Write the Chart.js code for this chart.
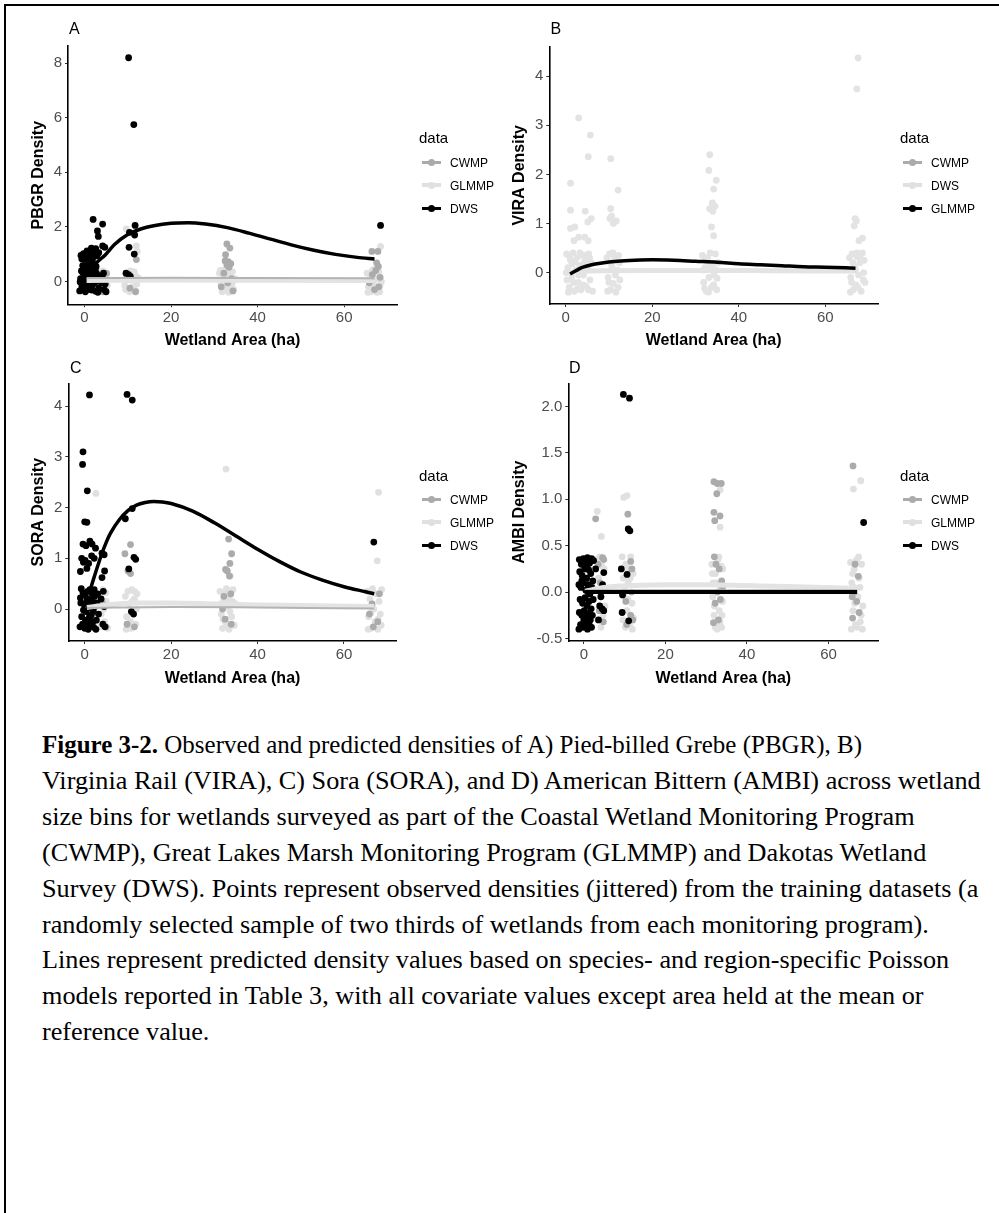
<!DOCTYPE html>
<html><head><meta charset="utf-8">
<script src="https://cdn.jsdelivr.net/npm/chart.js@4.4.0/dist/chart.umd.min.js"></script>
<style>
html,body{margin:0;padding:0;background:#fff;}
#page{position:relative;width:999px;height:1213px;overflow:hidden;background:#fff;font-family:"Liberation Sans",Arial,sans-serif;}
.frameTop{position:absolute;left:4px;top:4px;width:995px;height:2px;background:#000;z-index:5;}
.frameLeft{position:absolute;left:4px;top:4px;width:2px;height:1209px;background:#000;z-index:5;}
.cv{position:absolute;}
.letter{position:absolute;font-size:16px;line-height:16px;color:#000;}
.legTitle{position:absolute;font-size:15px;line-height:15px;color:#000;}
.legItem{position:absolute;font-size:12px;line-height:12px;color:#000;white-space:nowrap;}
.key{position:absolute;width:19px;}
.keyLine{position:absolute;left:0;width:19px;}
.keyDot{position:absolute;left:6px;width:7px;height:7px;border-radius:50%;}
.cap{position:absolute;left:42px;font-family:"Liberation Serif","Times New Roman",serif;font-size:26px;line-height:30px;color:#000;white-space:nowrap;transform-origin:0 50%;}
</style>
</head><body>
<div id="page">
  <div class="frameTop"></div><div class="frameLeft"></div>
  <canvas id="cA" class="cv" width="500" height="360" style="left:0px;top:0px;width:500px;height:360px"></canvas>
  <canvas id="cB" class="cv" width="500" height="360" style="left:481px;top:0px;width:500px;height:360px"></canvas>
  <canvas id="cC" class="cv" width="500" height="360" style="left:0px;top:337px;width:500px;height:360px"></canvas>
  <canvas id="cD" class="cv" width="499" height="360" style="left:500px;top:337px;width:499px;height:360px"></canvas>
  <div id="overlay"></div>
  <div id="caption"></div>
</div>
<script>
// ---------------- DATA ----------------
const xTicks = [0, 20, 40, 60];
const xRange = [-3.8, 72.2];
const seriesColors = { CWMP: '#ababab', GLMMP: '#e0e0e0', DWS: '#000000' };

// Panel A : PBGR
const aYTicks = [0, 2, 4, 6, 8];
const aYRange = [-0.84, 8.63];
const aDWS = [
[10.2,8.2],[11.4,5.75],[2.0,2.27],[4.2,2.1],[3.0,1.85],[3.2,1.65],[4.2,1.3],[4.7,1.25],[11.7,2.05],[10.4,1.8],[11.6,1.7],[10.3,1.25],[11.5,1.0],[9.6,0.3],[10.2,0.25],[10.6,0.18],[68.4,2.05],
[-0.8,0.95],[-0.2,1.02],[0.4,0.9],[0.9,1.07],[1.4,0.96],[1.8,1.16],[2.3,1.01],[2.6,1.2],[2.9,0.94],[0.1,0.8],[1.1,0.85],[-0.6,0.82],[2.0,0.88],[3.3,1.05],[0.6,1.12],[1.6,1.22],[0.9,0.62],[-0.4,0.58],[1.9,0.7],[2.7,0.55],[0.2,0.5],
[-1.1,-0.35],[-0.6,-0.2],[-0.9,0.1],[-0.3,0.3],[0.2,-0.38],[0.5,-0.05],[0.8,0.22],[1.2,-0.3],[1.5,0.38],[1.9,-0.12],[2.2,0.15],[2.6,-0.36],[2.9,0.05],[3.3,-0.25],[-0.7,0.38],[0.0,0.12],[0.4,-0.25],[1.0,0.4],[1.3,0.02],[1.7,-0.32],[2.0,0.32],[2.4,-0.05],[2.8,0.28],[3.1,-0.4],[-0.2,-0.1],[-1.0,-0.02],[1.6,-0.2],[0.3,0.25],[2.5,0.44],[3.6,0.2],[4.2,0.1],[4.8,-0.1],[4.5,-0.3],[5.0,-0.38],[3.9,-0.05],[4.4,0.3]
];
const aCWMP = [
[4.8,-0.32],[5.1,0.3],[4.3,-0.38],[11.8,-0.38],[12.0,0.8],[10.5,-0.25],[9.7,0.1],
[32.9,1.37],[33.6,1.22],[32.6,0.98],[32.5,0.75],[33.2,0.72],[33.8,0.65],[32.9,0.6],[33.4,0.52],[32.2,0.3],[34.0,0.1],[31.6,-0.2],[33.1,-0.05],[34.3,-0.35],
[66.4,1.1],[67.8,1.1],[67.5,0.68],[67.9,0.55],[67.3,0.4],[66.5,0.25],[68.3,0.15],[65.8,-0.05],[67.0,-0.3],[68.0,-0.2]
];
const aGLMMP = [
[3.5,0.35],[4.0,0.1],[4.5,-0.2],[5.1,0.25],[3.8,-0.35],[4.9,0.0],[5.3,-0.15],[4.2,0.38],[3.2,0.2],[4.6,0.32],
[9.7,1.92],[12.0,1.3],[12.2,1.1],[11.5,0.35],[9.5,-0.3],[10.0,0.2],[10.4,-0.38],[10.8,0.05],[11.2,-0.2],[11.6,0.3],[12.1,-0.1],[9.8,0.05],[10.6,0.38],[11.9,-0.35],[9.3,-0.15],[12.3,0.15],
[31.2,0.3],[31.5,-0.1],[31.8,-0.38],[32.1,0.15],[32.4,-0.25],[32.7,0.38],[33.0,0.0],[33.3,-0.4],[33.6,0.25],[33.9,-0.15],[34.2,0.35],[34.5,-0.3],[34.8,0.1],[31.4,0.4],[32.0,-0.05],[32.6,0.2],[33.2,0.33],[33.8,-0.35],[34.4,0.02],[32.9,-0.2],[31.9,-0.3],[34.1,-0.05],[33.5,0.1],[32.3,0.42],
[68.4,1.28],[65.3,0.3],[65.6,-0.2],[65.9,0.05],[66.2,-0.38],[66.5,0.4],[66.8,-0.1],[67.1,0.2],[67.4,-0.32],[67.7,0.1],[68.0,0.35],[68.3,-0.15],[68.6,0.0],[65.5,-0.4],[66.0,0.25],[66.9,0.45],[67.6,-0.4],[68.2,-0.38],[66.4,0.12],[67.9,-0.22]
];
const aLineDWSx = [1.3, 3, 4.8, 7, 10, 13, 16, 20, 24, 28, 33, 38, 43, 48, 53, 58, 63, 67];
const aLineDWSy = [0.45, 0.72, 0.97, 1.36, 1.72, 1.92, 2.04, 2.13, 2.15, 2.1, 1.97, 1.77, 1.55, 1.33, 1.14, 0.99, 0.88, 0.82];
const aLineCWMPx = [0.5, 20, 40, 67];
const aLineCWMPy = [0.12, 0.13, 0.12, 0.11];
const aLineGLMMPx = [0.5, 20, 40, 67];
const aLineGLMMPy = [0.03, 0.05, 0.04, 0.03];

// Panel B : VIRA  (legend order CWMP, DWS, GLMMP)
const bYTicks = [0, 1, 2, 3, 4];
const bYRange = [-0.64, 4.6];
const bDWS = [
[1.1,1.82],[3.0,3.15],[5.7,2.8],[5.2,2.36],[1.1,1.27],[1.1,0.9],[2.1,0.93],[3.0,0.72],[1.9,0.65],[4.5,1.25],[5.9,1.1],[5.1,1.03],[4.4,0.72],[5.2,0.65],
[10.4,2.32],[12.1,1.68],[10.4,1.3],[10.6,1.15],[11.7,1.05],[11.0,1.0],[10.2,1.1],
[33.3,2.4],[33.1,2.08],[34.8,1.88],[34.2,1.7],[33.9,1.42],[33.3,1.3],[34.5,1.35],[34.0,1.25],[33.7,0.93],[34.2,0.75],
[67.6,4.37],[67.3,3.74],[66.9,1.1],[67.2,1.05],[66.7,0.95],[68.6,0.7],[67.8,0.65],
[0.2,0.38],[0.5,0.1],[0.8,-0.3],[1.1,0.25],[1.4,-0.1],[1.7,0.4],[2.0,-0.38],[2.3,0.05],[2.6,0.3],[2.9,-0.2],[3.2,0.15],[3.5,-0.35],[3.8,0.35],[4.1,-0.05],[4.4,0.22],[4.7,-0.28],[5.0,0.08],[5.3,0.38],[5.6,-0.15],[5.9,0.2],[6.2,-0.38],[0.3,-0.15],[0.9,0.32],[1.5,0.18],[2.1,0.22],[2.7,-0.33],[3.3,0.4],[4.0,-0.25],[4.6,0.35],[5.2,-0.35],[0.6,-0.4],[1.8,-0.2],[3.0,-0.05],[4.2,0.05],[5.5,0.3],[0.1,0.0],
[9.5,0.3],[9.8,-0.1],[10.1,0.38],[10.4,-0.35],[10.7,0.12],[11.0,-0.22],[11.3,0.3],[11.6,-0.4],[11.9,0.05],[12.2,0.35],[12.5,-0.15],[9.7,-0.38],[10.3,0.2],[10.9,0.4],[11.5,-0.05],[12.1,-0.3],[12.4,0.2],[10.0,-0.2],
[31.6,0.35],[31.9,-0.2],[32.2,0.1],[32.5,-0.38],[32.8,0.3],[33.1,-0.1],[33.4,0.4],[33.7,-0.3],[34.0,0.15],[34.3,-0.05],[34.6,0.38],[34.9,-0.35],[35.2,0.2],[31.8,0.05],[32.4,0.25],[33.0,-0.4],[33.6,0.1],[34.2,-0.25],[34.8,0.05],[32.1,-0.32],[33.3,0.18],[35.0,-0.12],
[65.6,0.3],[65.9,-0.1],[66.2,0.38],[66.5,-0.35],[66.8,0.12],[67.1,-0.25],[67.4,0.32],[67.7,-0.05],[68.0,0.2],[68.3,-0.38],[68.6,0.4],[68.9,0.0],[69.2,-0.2],[65.8,-0.4],[66.4,0.2],[67.0,0.05],[67.6,-0.3],[68.2,0.28],[68.8,-0.15],[66.1,-0.2],[67.3,0.4],[69.0,0.25]
];
const bLineGLMMPx = [1, 2, 3, 4, 6, 8, 12, 16, 20, 25, 30, 35, 40, 45, 50, 55, 60, 67];
const bLineGLMMPy = [-0.03, 0.02, 0.07, 0.11, 0.16, 0.19, 0.23, 0.25, 0.26, 0.25, 0.23, 0.21, 0.18, 0.16, 0.14, 0.12, 0.11, 0.09];
const bLineDWSx = [0.5, 5, 20, 40, 67];
const bLineDWSy = [0.0, 0.03, 0.04, 0.04, 0.03];
const bLineCWMPx = [0.5, 67];
const bLineCWMPy = [0.02, 0.02];

// Panel C : SORA
const cYTicks = [0, 1, 2, 3, 4];
const cYRange = [-0.63, 4.45];
const cDWS = [
[1.1,4.22],[9.8,4.23],[11.0,4.12],[-0.4,3.1],[-0.5,2.85],[0.6,2.33],[0.0,1.72],[0.5,1.71],[1.2,1.34],[1.7,1.28],[-0.4,1.28],[0.3,1.25],[2.5,1.2],[1.6,1.05],[2.2,1.0],[-0.7,1.0],[0.1,0.96],[-0.3,0.92],[0.9,0.9],[-1.0,0.74],[0.5,0.8],[4.0,1.1],[4.5,1.07],[4.6,0.75],[4.0,0.62],[4.3,0.35],[9.4,1.78],[11.0,1.98],[11.4,1.02],[11.8,0.98],[10.2,0.79],[10.8,-0.05],[11.3,-0.1],[66.9,1.32],
[-1.1,-0.35],[-0.7,-0.15],[-0.9,0.12],[-0.4,0.32],[0.0,-0.38],[0.3,-0.05],[0.6,0.2],[0.9,-0.28],[1.2,0.38],[1.5,-0.12],[1.8,0.15],[2.1,-0.36],[2.4,0.05],[2.7,-0.22],[3.0,0.3],[-0.8,0.4],[-0.2,0.1],[0.2,-0.22],[0.7,0.35],[1.0,0.02],[1.4,-0.32],[1.7,0.3],[2.0,-0.05],[2.3,0.25],[2.6,-0.4],[-0.5,-0.3],[0.4,0.12],[1.1,-0.15],[1.9,-0.25],[2.8,0.12],[-1.0,0.22],[0.8,-0.4],[1.6,0.05],[0.1,0.28],[2.2,0.38],[3.2,-0.1],[4.2,-0.3],[4.7,-0.35],[3.8,0.2],[4.5,0.05],[-0.3,-0.02],[1.3,0.18]
];
const cCWMP = [
[9.3,1.09],[10.6,1.27],[10.0,0.75],[10.6,0.7],[33.3,1.38],[34.0,1.09],[33.6,0.9],[32.6,0.78],[33.0,0.75],[33.5,0.65],[33.8,0.3],[32.2,0.25],[11.5,-0.35],[9.8,-0.3],[4.9,-0.35],[4.2,0.1],[32.5,-0.2],[33.9,-0.3],[31.9,0.0],[66.5,0.1],[67.8,-0.25],[65.9,-0.1],[68.2,0.3],[66.8,-0.35]
];
const cGLMMP = [
[2.6,2.28],[32.7,2.76],[68.0,2.3],[67.7,0.95],[33.7,0.65],[10.0,0.35],[11.5,0.35],
[3.4,0.3],[3.8,-0.1],[4.2,0.38],[4.6,-0.25],[5.0,0.15],[5.3,-0.38],[3.6,-0.35],[4.9,0.32],[4.4,0.0],
[9.4,0.25],[9.7,-0.15],[10.0,-0.38],[10.3,0.1],[10.6,-0.25],[10.9,0.38],[11.2,-0.05],[11.5,0.2],[11.8,-0.3],[12.1,0.3],[9.6,-0.4],[10.8,-0.38],[12.0,0.0],[11.0,0.15],
[31.3,0.35],[31.6,-0.1],[31.9,-0.38],[32.2,0.2],[32.5,-0.25],[32.8,0.4],[33.1,0.05],[33.4,-0.4],[33.7,0.28],[34.0,-0.15],[34.3,0.38],[34.6,-0.32],[34.9,0.1],[31.5,0.1],[32.0,-0.2],[32.9,-0.35],[33.6,-0.05],[34.2,0.15],[32.4,0.3],[33.2,0.2],
[65.4,0.35],[65.7,-0.15],[66.0,0.2],[66.3,-0.38],[66.6,0.4],[66.9,0.0],[67.2,-0.25],[67.5,0.3],[67.8,-0.4],[68.1,0.15],[68.4,-0.1],[68.7,0.38],[65.6,-0.4],[66.4,0.05],[67.0,0.32],[67.9,-0.2],[68.6,-0.32],[66.2,-0.08]
];
const cLineDWSx = [1, 2, 3, 4, 5, 6, 8, 10, 12, 14, 16, 18, 20, 25, 30, 35, 40, 45, 50, 55, 60, 65, 67];
const cLineDWSy = [0.3, 0.58, 0.85, 1.1, 1.32, 1.5, 1.76, 1.94, 2.05, 2.1, 2.12, 2.11, 2.08, 1.93, 1.7, 1.44, 1.18, 0.94, 0.73, 0.57, 0.44, 0.34, 0.3];
const cLineCWMPx = [0.5, 20, 40, 67];
const cLineCWMPy = [0.02, 0.04, 0.03, 0.01];
const cLineGLMMPx = [0.5, 5, 12, 20, 30, 40, 50, 67];
const cLineGLMMPy = [0.03, 0.08, 0.12, 0.12, 0.1, 0.08, 0.07, 0.05];

// Panel D : AMBI
const dYTicks = [-0.5, 0, 0.5, 1, 1.5, 2];
const dYLabels = ['-0.5', '0.0', '0.5', '1.0', '1.5', '2.0'];
const dYRange = [-0.527, 2.25];
const dDWS = [
[9.7,2.13],[11.2,2.09],[10.9,0.68],[11.3,0.66],[9.2,0.25],[10.6,0.19],[9.5,-0.03],[9.4,-0.22],[11.0,-0.31],[68.6,0.75],[2.9,0.25],[4.9,0.21],[4.6,0.08],[3.9,-0.15],[4.9,-0.2],[3.6,-0.3],[4.2,-0.05],[4.5,-0.18],
[-1.1,0.35],[-0.6,0.3],[-0.1,0.36],[0.4,0.33],[0.9,0.37],[1.4,0.31],[1.9,0.36],[2.4,0.34],
[-1.0,0.22],[-0.4,0.18],[0.2,0.25],[0.7,0.15],[1.2,0.24],[1.7,0.2],[2.2,0.12],
[-1.2,0.08],[-0.7,0.05],[-0.1,0.1],[0.5,0.02],[1.0,0.08],[1.5,-0.02],[2.0,0.05],[2.6,0.02],
[-0.9,-0.08],[-0.3,-0.12],[0.3,-0.06],[0.8,-0.15],[1.3,-0.1],[1.8,-0.18],[2.3,-0.08],
[-1.1,-0.22],[-0.5,-0.25],[0.1,-0.2],[0.6,-0.28],[1.1,-0.23],[1.6,-0.3],[2.1,-0.25],
[-0.8,-0.35],[-0.2,-0.38],[0.4,-0.33],[0.9,-0.4],[1.4,-0.36],[1.9,-0.38],[-1.2,-0.4],[0.0,-0.3],[0.7,0.28],[-0.5,0.12],[1.2,-0.02]
];
const dCWMP = [
[2.9,0.79],[4.6,0.37],[4.9,0.35],[3.5,0.3],[4.0,0.1],[4.8,-0.32],[3.8,-0.2],
[10.8,0.84],[11.5,0.33],[11.8,0.25],[11.5,-0.25],[12.0,-0.3],[10.3,-0.1],[11.7,0.0],[10.5,-0.35],
[31.9,1.19],[32.7,1.17],[33.7,1.17],[32.6,1.06],[31.9,0.86],[33.4,0.82],[32.1,0.77],
[32.0,0.38],[32.4,0.3],[33.2,0.25],[33.8,0.12],[32.8,0.0],[33.5,-0.08],[32.2,-0.12],[33.0,-0.3],[31.8,-0.33],[34.0,0.05],
[66.0,1.36],[66.5,0.3],[67.3,0.17],[65.8,-0.05],[66.9,-0.1],[67.5,-0.22],[65.9,-0.28],[66.3,0.0]
];
const dGLMMP = [
[3.3,0.87],[4.3,0.6],[9.8,1.02],[10.6,1.04],[33.4,0.7],[33.4,1.1],[66.1,1.11],[67.9,1.2],
[3.2,0.35],[3.6,0.15],[4.0,-0.05],[4.4,0.28],[4.8,0.05],[5.2,-0.15],[3.4,-0.3],[4.2,-0.38],[5.0,0.25],[3.9,0.38],[4.7,-0.25],
[9.4,0.38],[9.7,0.15],[10.0,-0.05],[10.3,0.3],[10.6,-0.2],[10.9,0.1],[11.2,-0.35],[11.5,0.38],[11.8,-0.12],[12.1,0.2],[9.6,-0.3],[10.2,-0.38],[11.0,0.25],[11.9,-0.4],[9.9,0.05],[10.8,-0.08],[11.4,0.15],[12.2,-0.28],
[31.4,0.3],[31.7,0.1],[32.0,-0.15],[32.3,0.2],[32.6,-0.35],[32.9,0.35],[33.2,-0.2],[33.5,0.05],[33.8,-0.38],[34.1,0.25],[31.6,-0.05],[31.9,-0.25],[32.5,0.1],[33.1,0.38],[33.7,0.28],[34.0,-0.1],[32.7,-0.4],[33.4,-0.32],[31.5,0.2],[32.2,-0.38],[33.9,-0.25],
[65.4,0.32],[65.7,0.1],[66.0,-0.2],[66.3,0.25],[66.6,-0.35],[66.9,0.35],[67.2,-0.05],[67.5,0.15],[67.8,-0.32],[68.1,0.3],[68.4,-0.15],[65.6,-0.4],[66.4,-0.12],[67.0,-0.38],[67.7,0.05],[68.3,-0.4],[66.2,0.05],[67.4,0.38],[68.0,-0.25],[65.9,0.2]
];
const dLineDWSx = [0.3, 20, 40, 67];
const dLineDWSy = [0.0, 0.0, 0.0, 0.0];
const dLineGLMMPx = [0.3, 5, 12, 20, 30, 40, 50, 67];
const dLineGLMMPy = [0.01, 0.05, 0.07, 0.08, 0.08, 0.07, 0.06, 0.04];
const dLineCWMPx = [0.3, 67];
const dLineCWMPy = [0.02, 0.02];

const captionLines = [
  ['Figure 3-2.', ' Observed and predicted densities of A) Pied-billed Grebe (PBGR), B)'],
  ['', 'Virginia Rail (VIRA), C) Sora (SORA), and D) American Bittern (AMBI) across wetland'],
  ['', 'size bins for wetlands surveyed as part of the Coastal Wetland Monitoring Program'],
  ['', '(CWMP), Great Lakes Marsh Monitoring Program (GLMMP) and Dakotas Wetland'],
  ['', 'Survey (DWS). Points represent observed densities (jittered) from the training datasets (a'],
  ['', 'randomly selected sample of two thirds of wetlands from each monitoring program).'],
  ['', 'Lines represent predicted density values based on species- and region-specific Poisson'],
  ['', 'models reported in Table 3, with all covariate values except area held at the mean or'],
  ['', 'reference value.']
];

// ---------------- DRAWING ----------------
const FONT = "'Liberation Sans', Arial, sans-serif";
function pts(arr) { return arr.map(p => ({ x: p[0], y: p[1] })); }
function line(xs, ys) { return xs.map((x, i) => ({ x: x, y: ys[i] })); }

function makePanel(id, g, yTitle, yTicks, yLabels, yRange, lines, points) {
  const datasets = [];
  lines.forEach(l => datasets.push({
    label: l.label, data: line(l.x, l.y), showLine: true, borderColor: l.color,
    borderWidth: l.width, pointRadius: 0, pointHoverRadius: 0, fill: false,
    cubicInterpolationMode: 'monotone', borderCapStyle: 'butt'
  }));
  points.forEach(p => datasets.push({
    label: p.label, data: pts(p.data), showLine: false, backgroundColor: p.color,
    borderWidth: 0, pointRadius: 3.4, pointHoverRadius: 3.4
  }));
  new Chart(document.getElementById(id), {
    type: 'scatter',
    data: { datasets: datasets },
    options: {
      responsive: false, animation: false, devicePixelRatio: 1,
      layout: { padding: { left: 0, top: g.top, right: g.right, bottom: 0 } },
      plugins: { legend: { display: false }, tooltip: { enabled: false }, title: { display: false } },
      scales: {
        x: {
          type: 'linear', min: xRange[0], max: xRange[1],
          afterBuildTicks: s => { s.ticks = xTicks.map(v => ({ value: v })); },
          afterFit: s => { s.height = g.xh; },
          ticks: { autoSkip: false, maxRotation: 0, padding: 2, color: '#4d4d4d', font: { family: FONT, size: 15 }, callback: v => String(v) },
          grid: { display: true, drawOnChartArea: false, drawTicks: true, tickLength: 3, color: '#333333', lineWidth: 1 },
          border: { display: true, color: '#000000', width: 1.6 },
          title: { display: true, text: 'Wetland Area (ha)', color: '#000', font: { family: FONT, size: 16, weight: 'bold' }, padding: { top: 0, bottom: g.xtp } }
        },
        y: {
          type: 'linear', min: yRange[0], max: yRange[1],
          afterBuildTicks: s => { s.ticks = yTicks.map(v => ({ value: v })); },
          afterFit: s => { s.width = g.yw; },
          ticks: { autoSkip: false, padding: 3, color: '#4d4d4d', font: { family: FONT, size: 15 },
            callback: (v) => { const i = yTicks.indexOf(v); return (yLabels && i >= 0) ? yLabels[i] : String(v); } },
          grid: { display: true, drawOnChartArea: false, drawTicks: true, tickLength: 3, color: '#333333', lineWidth: 1 },
          border: { display: true, color: '#000000', width: 1.6 },
          title: { display: true, text: yTitle, color: '#000', font: { family: FONT, size: 16, weight: 'bold' }, padding: { top: g.ytp, bottom: 0 } }
        }
      }
    }
  });
}

const C = seriesColors;
makePanel('cA', { top: 46, right: 103, xh: 55.7, yw: 68, xtp: 9.7, ytp: 29.1 }, 'PBGR Density', aYTicks, null, aYRange,
  [ { label: 'DWS', x: aLineDWSx, y: aLineDWSy, color: C.DWS, width: 3.5 },
    { label: 'CWMP', x: aLineCWMPx, y: aLineCWMPy, color: '#b3b3b3', width: 2 },
    { label: 'GLMMP', x: aLineGLMMPx, y: aLineGLMMPy, color: '#e3e3e3', width: 5 } ],
  [ { label: 'DWS', data: aDWS, color: C.DWS }, { label: 'CWMP', data: aCWMP, color: C.CWMP }, { label: 'GLMMP', data: aGLMMP, color: C.GLMMP } ]);

makePanel('cB', { top: 46.7, right: 103, xh: 56, yw: 68.3, xtp: 9.7, ytp: 29.4 }, 'VIRA Density', bYTicks, null, bYRange,
  [ { label: 'GLMMP', x: bLineGLMMPx, y: bLineGLMMPy, color: '#000000', width: 3.5 },
    { label: 'DWS', x: bLineDWSx, y: bLineDWSy, color: '#e3e3e3', width: 5 },
    { label: 'CWMP', x: bLineCWMPx, y: bLineCWMPy, color: '#b3b3b3', width: 2 } ],
  [ { label: 'DWS', data: bDWS, color: '#e3e3e3' } ]);

makePanel('cC', { top: 46.3, right: 103.3, xh: 56, yw: 68.3, xtp: 9.1, ytp: 29.4 }, 'SORA Density', cYTicks, null, cYRange,
  [ { label: 'DWS', x: cLineDWSx, y: cLineDWSy, color: C.DWS, width: 3.5 },
    { label: 'CWMP', x: cLineCWMPx, y: cLineCWMPy, color: '#b3b3b3', width: 2 },
    { label: 'GLMMP', x: cLineGLMMPx, y: cLineGLMMPy, color: '#e3e3e3', width: 5 } ],
  [ { label: 'DWS', data: cDWS, color: C.DWS }, { label: 'CWMP', data: cCWMP, color: C.CWMP }, { label: 'GLMMP', data: cGLMMP, color: C.GLMMP } ]);

makePanel('cD', { top: 46.3, right: 120.7, xh: 56, yw: 68.3, xtp: 9.1, ytp: 10.4 }, 'AMBI Density', dYTicks, dYLabels, dYRange,
  [ { label: 'DWS', x: dLineDWSx, y: dLineDWSy, color: C.DWS, width: 4 },
    { label: 'CWMP', x: dLineCWMPx, y: dLineCWMPy, color: '#b3b3b3', width: 2 },
    { label: 'GLMMP', x: dLineGLMMPx, y: dLineGLMMPy, color: '#e3e3e3', width: 5 } ],
  [ { label: 'DWS', data: dDWS, color: C.DWS }, { label: 'CWMP', data: dCWMP, color: C.CWMP }, { label: 'GLMMP', data: dGLMMP, color: C.GLMMP } ]);

// ---------------- overlays: panel letters, legends ----------------
const ov = document.getElementById('overlay');
function addDiv(cls, txt, left, top, extra) {
  const d = document.createElement('div'); d.className = cls; d.textContent = txt;
  d.style.left = left + 'px'; d.style.top = top + 'px';
  if (extra) Object.assign(d.style, extra);
  ov.appendChild(d); return d;
}
[['A', 69, 20.6], ['B', 550.5, 21], ['C', 70, 359.6], ['D', 569, 359.6]].forEach(l => addDiv('letter', l[0], l[1], l[2]));

function legend(x0, titleTop, entries, firstTop) {
  addDiv('legTitle', 'data', x0, titleTop);
  entries.forEach((e, i) => {
    const top = firstTop + i * 23;
    addDiv('legItem', e.label, x0 + 31, top);
    const k = document.createElement('div'); k.className = 'key';
    k.style.left = (x0 + 2.5) + 'px'; k.style.top = (top + 5.5) + 'px';
    const ln = document.createElement('div'); ln.className = 'keyLine';
    ln.style.height = e.w + 'px'; ln.style.top = (-e.w / 2) + 'px'; ln.style.background = e.color;
    const dot = document.createElement('div'); dot.className = 'keyDot';
    dot.style.top = '-3.5px'; dot.style.background = e.color;
    k.appendChild(ln); k.appendChild(dot); ov.appendChild(k);
  });
}
const stdLeg = [ { label: 'CWMP', color: C.CWMP, w: 3 }, { label: 'GLMMP', color: C.GLMMP, w: 4 }, { label: 'DWS', color: C.DWS, w: 3 } ];
const bLeg = [ { label: 'CWMP', color: C.CWMP, w: 3 }, { label: 'DWS', color: C.GLMMP, w: 4 }, { label: 'GLMMP', color: C.DWS, w: 3 } ];
legend(419, 130, stdLeg, 156.5);
legend(900, 130, bLeg, 156.5);
legend(419, 468.3, stdLeg, 493.8);
legend(900, 468.3, stdLeg, 493.8);

// ---------------- caption ----------------
const cap = document.getElementById('caption');
const capCenters = [745, 781, 817, 853, 889, 925, 960, 996, 1032];
const capEls = [];
captionLines.forEach((ln, i) => {
  const d = document.createElement('div'); d.className = 'cap';
  d.style.top = (capCenters[i] - 15) + 'px';
  if (ln[0]) { const b = document.createElement('b'); b.textContent = ln[0]; d.appendChild(b); }
  d.appendChild(document.createTextNode(ln[1]));
  cap.appendChild(d); capEls.push(d);
});
// fit caption font size so that line 2 spans the width seen in the figure
const w2 = capEls[1].getBoundingClientRect().width;
const fs = 26 * 939 / w2;
capEls.forEach(d => { d.style.fontSize = fs.toFixed(2) + 'px'; });
// the first caption line is set a little tighter in the figure
const w1 = capEls[0].getBoundingClientRect().width;
capEls[0].style.transform = 'scaleX(' + (820 / w1).toFixed(4) + ')';
</script>
</body></html>
